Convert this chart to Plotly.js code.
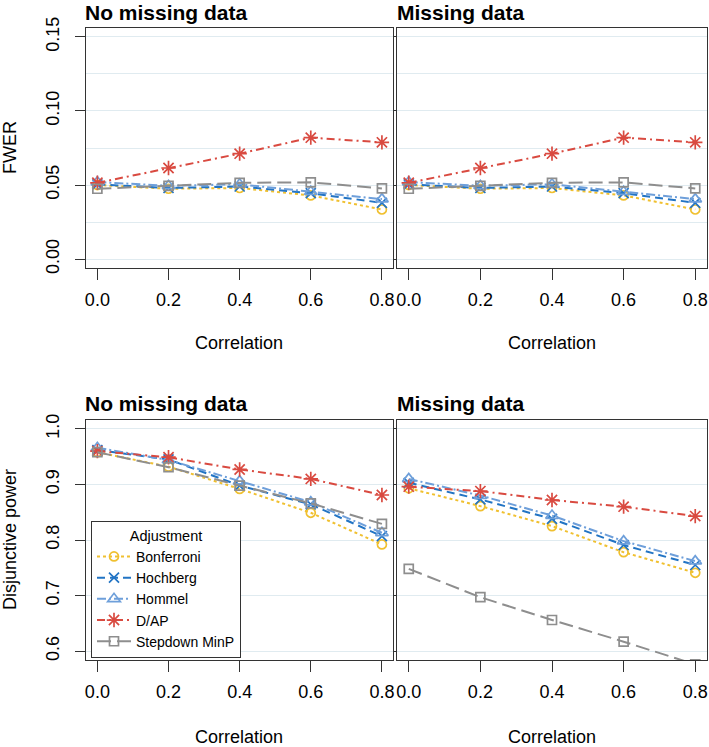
<!DOCTYPE html>
<html>
<head>
<meta charset="utf-8">
<script src="https://cdn.plot.ly/plotly-3.0.1.min.js"></script>
<style>
html,body{margin:0;padding:0;background:#fff;}
#chart{width:709px;height:747px;}
</style>
</head>
<body>
<div id="chart"></div>
<script>
// ---- Data ----
var correlation = [0.0, 0.2, 0.4, 0.6, 0.8];
var seriesNames = ["Bonferroni", "Hochberg", "Hommel", "D/AP", "Stepdown MinP"];
var panelTitles = ["No missing data", "Missing data", "No missing data", "Missing data"];
var xTickVals = [0.0, 0.2, 0.4, 0.6, 0.8];
var fwerTickVals = [0.00, 0.05, 0.10, 0.15];
var powerTickVals = [0.6, 0.7, 0.8, 0.9, 1.0];

// FWER, no missing data
var fwerNoMissBonferroni = [0.0500, 0.0475, 0.0480, 0.0430, 0.0335];
var fwerNoMissHochberg   = [0.0505, 0.0480, 0.0490, 0.0445, 0.0380];
var fwerNoMissHommel     = [0.0520, 0.0495, 0.0505, 0.0455, 0.0405];
var fwerNoMissDAP        = [0.0515, 0.0615, 0.0712, 0.0820, 0.0788];
var fwerNoMissStepdown   = [0.0475, 0.0495, 0.0515, 0.0518, 0.0477];
// FWER, missing data
var fwerMissBonferroni = [0.0500, 0.0475, 0.0480, 0.0430, 0.0335];
var fwerMissHochberg   = [0.0505, 0.0480, 0.0490, 0.0445, 0.0380];
var fwerMissHommel     = [0.0520, 0.0495, 0.0505, 0.0455, 0.0405];
var fwerMissDAP        = [0.0515, 0.0615, 0.0712, 0.0820, 0.0788];
var fwerMissStepdown   = [0.0475, 0.0495, 0.0515, 0.0518, 0.0477];
// Disjunctive power, no missing data
var powNoMissBonferroni = [0.958, 0.932, 0.892, 0.849, 0.792];
var powNoMissHochberg   = [0.962, 0.945, 0.898, 0.864, 0.807];
var powNoMissHommel     = [0.966, 0.944, 0.906, 0.868, 0.813];
var powNoMissDAP        = [0.960, 0.949, 0.927, 0.910, 0.881];
var powNoMissStepdown   = [0.958, 0.931, 0.898, 0.866, 0.829];
// Disjunctive power, missing data
var powMissBonferroni = [0.893, 0.861, 0.825, 0.778, 0.741];
var powMissHochberg   = [0.903, 0.873, 0.838, 0.791, 0.755];
var powMissHommel     = [0.910, 0.880, 0.844, 0.798, 0.762];
var powMissDAP        = [0.896, 0.888, 0.872, 0.860, 0.843];
var powMissStepdown   = [0.748, 0.697, 0.656, 0.617, 0.576];

// ---- Styles ----
var styles = [
  {color: "#F0C030", dash: "3px,3px",               symbol: "circle-open",        size: 9},
  {color: "#2274C4", dash: "8px,5px",               symbol: "x-thin-open",        size: 10},
  {color: "#6E9FDA", dash: "9px,3px,2px,3px",       symbol: "triangle-up-open",   size: 11},
  {color: "#D94A40", dash: "8px,4px,2px,4px",       symbol: "asterisk-open",      size: 12},
  {color: "#8E8E8E", dash: "14px,6px",              symbol: "square-open",        size: 9}
];

var panels = [
  {xa: "x",  ya: "y",  data: [fwerNoMissBonferroni, fwerNoMissHochberg, fwerNoMissHommel, fwerNoMissDAP, fwerNoMissStepdown]},
  {xa: "x2", ya: "y2", data: [fwerMissBonferroni, fwerMissHochberg, fwerMissHommel, fwerMissDAP, fwerMissStepdown]},
  {xa: "x3", ya: "y3", data: [powNoMissBonferroni, powNoMissHochberg, powNoMissHommel, powNoMissDAP, powNoMissStepdown]},
  {xa: "x4", ya: "y4", data: [powMissBonferroni, powMissHochberg, powMissHommel, powMissDAP, powMissStepdown]}
];

var traces = [];
panels.forEach(function(p, pi) {
  p.data.forEach(function(vals, si) {
    var s = styles[si];
    traces.push({
      type: "scatter", mode: "lines+markers",
      x: correlation, y: vals,
      xaxis: p.xa, yaxis: p.ya,
      name: seriesNames[si],
      showlegend: pi === 2,
      line: {color: s.color, width: 2, dash: s.dash},
      marker: {symbol: s.symbol, size: s.size, color: s.color,
               line: {color: s.color, width: 1.7}},
      hoverinfo: "skip"
    });
  });
});

var W = 709, H = 747;
function px(v) { return v / W; }
function py(v) { return 1 - v / H; }

var FONT = "Liberation Sans, Arial, Helvetica, sans-serif";
var gridCol = "#E0EBF0";
var lineCol = "#333333";

function xAxis(dom, anchor) {
  return {
    domain: dom, anchor: anchor, range: [-0.032, 0.832],
    tickvals: xTickVals, tickformat: ".1f",
    showline: true, mirror: true, linecolor: lineCol, linewidth: 1,
    ticks: "outside", ticklen: 11, tickcolor: lineCol, tickwidth: 1,
    showgrid: false, zeroline: false, ticklabelstandoff: 4,
    tickfont: {family: FONT, size: 18, color: "#000"}
  };
}
function yAxis(dom, anchor, range, tickvals, fmt, minorDtick, showLabels) {
  var a = {
    domain: dom, anchor: anchor, range: range,
    tickvals: tickvals, tickformat: fmt, tickangle: -90,
    showline: true, mirror: true, linecolor: lineCol, linewidth: 1,
    ticks: "outside", ticklen: showLabels ? 10 : 3, tickcolor: lineCol, tickwidth: 1,
    showgrid: true, gridcolor: gridCol, gridwidth: 1, zeroline: false,
    showticklabels: showLabels, ticklabelstandoff: 9,
    tickfont: {family: FONT, size: 18, color: "#000"}
  };
  if (minorDtick) {
    a.minor = {dtick: minorDtick, tick0: 0, showgrid: true, gridcolor: gridCol, gridwidth: 1, ticks: ""};
  }
  return a;
}

var xL = [px(86), px(393.3)], xR = [px(397.3), px(706.7)];
var yT = [py(268), py(28)], yB = [py(660), py(420)];

function titleAnn(text, x, y) {
  return {text: "<b>" + text + "</b>", xref: "paper", yref: "paper", x: px(x), y: py(y),
          xanchor: "left", yanchor: "top", showarrow: false, borderpad: 0,
          font: {family: FONT, size: 21, color: "#000"}};
}
function plainAnn(text, x, y, angle) {
  return {text: text, xref: "paper", yref: "paper", x: px(x), y: py(y),
          xanchor: "center", yanchor: "middle", textangle: angle || 0, showarrow: false,
          font: {family: FONT, size: 18, color: "#000"}};
}

var layout = {
  width: W, height: H,
  margin: {l: 0, r: 0, t: 0, b: 0},
  paper_bgcolor: "#fff", plot_bgcolor: "#fff",
  font: {family: FONT, color: "#000"},
  showlegend: true,
  xaxis: xAxis(xL, "y"),
  xaxis2: xAxis(xR, "y2"),
  xaxis3: xAxis(xL, "y3"),
  xaxis4: xAxis(xR, "y4"),
  yaxis: yAxis(yT, "x", [-0.006, 0.156], fwerTickVals, ".2f", 0.025, true),
  yaxis2: yAxis(yT, "x2", [-0.006, 0.156], fwerTickVals, ".2f", 0.025, false),
  yaxis3: yAxis(yB, "x3", [0.584, 1.016], powerTickVals, ".1f", null, true),
  yaxis4: yAxis(yB, "x4", [0.584, 1.016], powerTickVals, ".1f", null, false),
  legend: {
    x: px(91), y: py(658), xanchor: "left", yanchor: "bottom",
    bgcolor: "#fff", bordercolor: lineCol, borderwidth: 1,
    tracegroupgap: 0, itemwidth: 34,
    font: {family: FONT, size: 14, color: "#000"},
    title: {text: "Adjustment", side: "top center", font: {family: FONT, size: 14.5, color: "#000"}},
    traceorder: "normal", itemclick: false
  },
  annotations: [
    titleAnn(panelTitles[0], 84, 0),
    titleAnn(panelTitles[1], 396, 0),
    titleAnn(panelTitles[2], 84, 391),
    titleAnn(panelTitles[3], 396, 391),
    plainAnn("Correlation", 239.5, 343),
    plainAnn("Correlation", 552, 343),
    plainAnn("Correlation", 239.5, 737),
    plainAnn("Correlation", 552, 737),
    plainAnn("FWER", 10, 148, -90),
    plainAnn("Disjunctive power", 10, 540, -90)
  ]
};

Plotly.newPlot("chart", traces, layout, {displayModeBar: false, staticPlot: true});
</script>
</body>
</html>
